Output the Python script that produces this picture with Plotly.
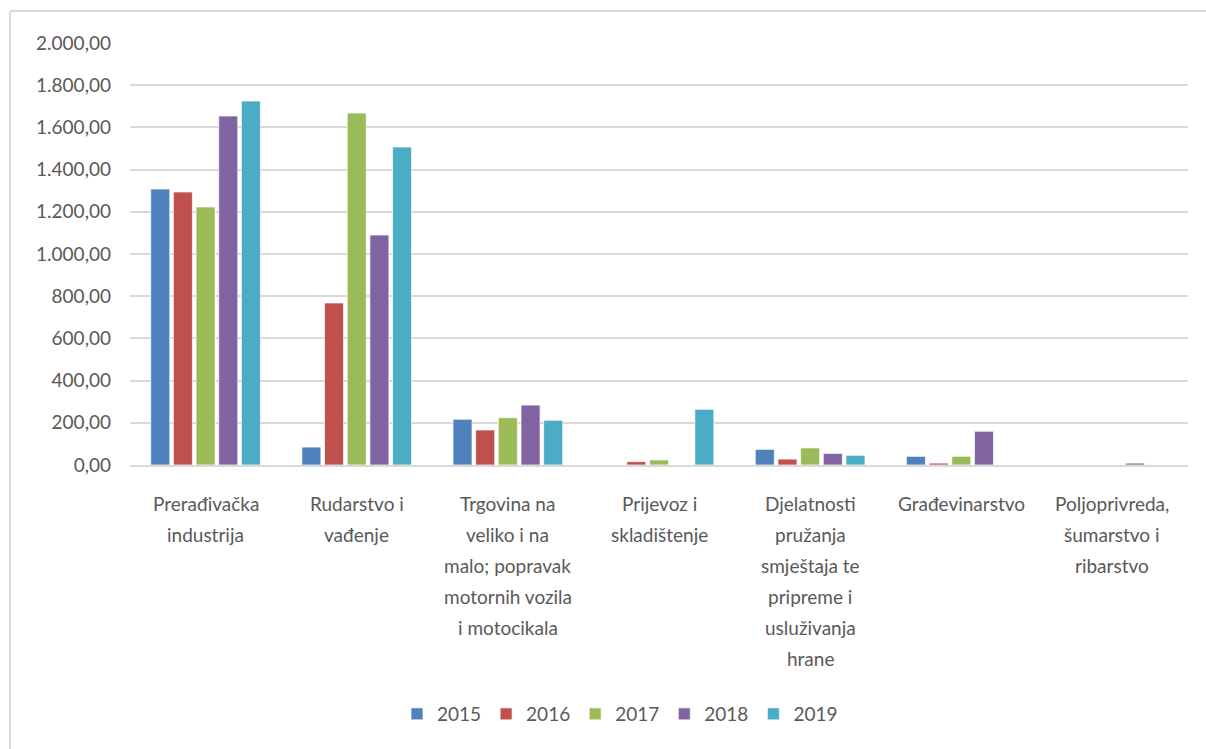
import plotly.graph_objects as go

categories = [
    "Prerađivačka industrija",
    "Rudarstvo i vađenje",
    "Trgovina na veliko i na malo; popravak motornih vozila i motocikala",
    "Prijevoz i skladištenje",
    "Djelatnosti pružanja smještaja te pripreme i usluživanja hrane",
    "Građevinarstvo",
    "Poljoprivreda, šumarstvo i ribarstvo",
]
tick_labels = [
    "Prerađivačka<br>industrija",
    "Rudarstvo i<br>vađenje",
    "Trgovina na<br>veliko i na<br>malo; popravak<br>motornih vozila<br>i motocikala",
    "Prijevoz i<br>skladištenje",
    "Djelatnosti<br>pružanja<br>smještaja te<br>pripreme i<br>usluživanja<br>hrane",
    "Građevinarstvo",
    "Poljoprivreda,<br>šumarstvo i<br>ribarstvo",
]
years = ["2015", "2016", "2017", "2018", "2019"]
v2015 = [1308, 85, 217, 0, 74, 41, 0]
v2016 = [1294, 768, 166, 16, 28, 9, 0]
v2017 = [1223, 1668, 224, 24, 81, 41, 0]
v2018 = [1654, 1090, 284, 0, 55, 160, 9]
v2019 = [1725, 1507, 212, 264, 46, 0, 0]
series = [v2015, v2016, v2017, v2018, v2019]
colors = ["#4F81BD", "#C0504D", "#9BBB59", "#8064A2", "#4BACC6"]
y_ticks = [0, 200, 400, 600, 800, 1000, 1200, 1400, 1600, 1800, 2000]

FONT = "Lato"
TXT = "#595959"
GRID = "#D9D9D9"

fig = go.Figure()
for name, vals, col in zip(years, series, colors):
    fig.add_trace(go.Bar(
        x=categories, y=vals, name=name,
        marker=dict(color=col, line=dict(color="rgba(255,255,255,0.7)", width=1)),
    ))

W, H = 1206, 749
L, R, T, B = 130, 18, 43, 284

def px_x(p):
    return (p - L) / (W - L - R)

def px_y(p):
    return (H - B - p) / (H - T - B)

# category labels: one text line each, with Excel-like line spacing
LINE_STEP = 31
FIRST_TOP = 490
annotations = []
for cat, lab in zip(categories, tick_labels):
    for i, line in enumerate(lab.split("<br>")):
        annotations.append(dict(
            x=cat, xref="x", y=px_y(FIRST_TOP + i * LINE_STEP), yref="paper",
            yanchor="top", xanchor="center", showarrow=False, text=line,
            font=dict(family=FONT, size=19, color=TXT),
        ))

fig.update_layout(
    width=W, height=H,
    margin=dict(l=L, r=R, t=T, b=B),
    paper_bgcolor="white", plot_bgcolor="white",
    barmode="group", bargap=0.25, bargroupgap=0.16,
    separators=",.",
    font=dict(family=FONT, size=19, color=TXT),
    showlegend=True,
    legend=dict(orientation="h", x=px_x(620), xanchor="center",
                y=px_y(714), yanchor="middle",
                font=dict(family=FONT, size=19, color=TXT),
                itemwidth=30, traceorder="normal"),
    xaxis=dict(type="category", categoryorder="array", categoryarray=categories,
               showticklabels=False,
               showgrid=False, showline=True, linecolor=GRID, linewidth=2,
               ticks=""),
    yaxis=dict(range=[0, 2000], tickmode="array", tickvals=y_ticks,
               tickformat=",.2f", showgrid=True, gridcolor=GRID, gridwidth=2,
               zeroline=False, showline=False, ticks="",
               tickfont=dict(family=FONT, size=19, color=TXT),
               ticklabelstandoff=18),
    annotations=annotations,
    shapes=[
        dict(type="line", xref="paper", yref="paper",
             x0=px_x(10), x1=px_x(10), y0=px_y(11), y1=px_y(800),
             line=dict(color=GRID, width=2)),
        dict(type="line", xref="paper", yref="paper",
             x0=px_x(10), x1=px_x(1300), y0=px_y(11), y1=px_y(11),
             line=dict(color=GRID, width=2)),
    ],
)

fig.write_html("out.html", config={"displayModeBar": False},
               post_script="document.body.style.margin='0px';")
